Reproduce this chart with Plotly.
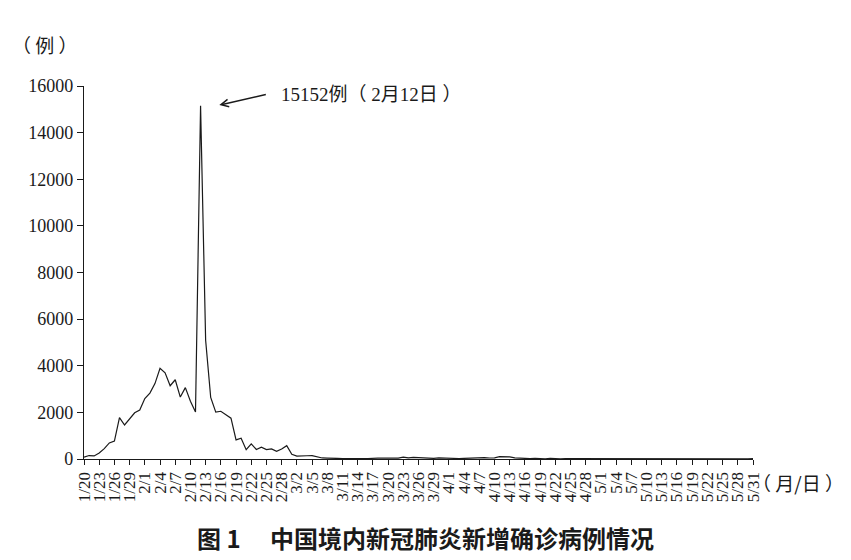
import pandas as pd
import plotly.graph_objects as go

start_date = "2020-01-20"
end_date = "2020-05-31"

new_cases = [
    77, 149, 131, 259, 444, 688, 769, 1771, 1459, 1737, 1982, 2102,          # 1/20-1/31
    2590, 2829, 3235, 3887, 3694, 3143, 3399, 2656, 3062, 2478, 2015, 15152,  # 2/1-2/12
    5090, 2641, 2009, 2048, 1886, 1749, 820, 889, 397, 648, 409, 508, 406,    # 2/13-2/25
    433, 327, 427, 573,                                                      # 2/26-2/29
    202, 125, 119, 139, 143, 99, 44, 40, 19, 24, 15, 8, 11, 20, 16, 21, 13,   # 3/1-3/17
    34, 39, 41, 46, 39, 78, 47, 67, 55, 54, 45, 31, 48, 36,                  # 3/18-3/31
    35, 31, 19, 30, 39, 32, 62, 63, 42, 46, 99, 108, 89, 46, 26, 27, 16,     # 4/1-4/17
    27, 12, 11, 30, 10, 10, 12, 11, 3, 6, 22, 4, 12,                          # 4/18-4/30
    2, 1, 2, 3, 1, 2, 4, 1, 14, 17, 1, 7, 3, 4, 5, 8, 7, 6, 4, 5, 4, 2, 3,    # 5/1-5/23
    11, 7, 1, 0, 5, 2, 4, 16,                                                # 5/24-5/31
]

y_ticks = [0, 2000, 4000, 6000, 8000, 10000, 12000, 14000, 16000]

dates = pd.date_range(start_date, end_date, freq="D")
tick_dates = dates[::3]
tick_text = [f"{d.month}/{d.day}" for d in tick_dates]

peak_idx = max(range(len(new_cases)), key=lambda i: new_cases[i])
peak_date = dates[peak_idx]
peak_value = new_cases[peak_idx]
peak_label = f"{peak_value}例（ {peak_date.month}月{peak_date.day}日 ）"

serif = "Liberation Serif, Times New Roman, serif"
cjk = "Noto Sans CJK SC"

fig = go.Figure()
fig.add_trace(go.Scatter(
    x=dates, y=new_cases, mode="lines",
    line=dict(color="#1a1a1a", width=1.2),
    hoverinfo="x+y", showlegend=False,
))

fig.update_layout(
    width=851, height=560,
    margin=dict(l=76, r=106, t=78, b=109),
    paper_bgcolor="white", plot_bgcolor="white",
    font=dict(family=serif, color="#1a1a1a"),
)

fig.update_xaxes(
    range=[dates[0], dates[-1]],
    tickmode="array", tickvals=list(tick_dates), ticktext=tick_text,
    tickangle=-90, ticks="outside", ticklen=5, tickwidth=1, tickcolor="#1a1a1a",
    showline=True, linecolor="#1a1a1a", linewidth=1.3,
    showgrid=False, zeroline=False,
    tickfont=dict(family=serif, size=17, color="#1a1a1a"),
)
fig.update_yaxes(
    range=[0, 16000],
    tickmode="array", tickvals=y_ticks, ticktext=[str(v) for v in y_ticks],
    ticks="outside", ticklen=6, tickwidth=1, tickcolor="#1a1a1a",
    showline=True, linecolor="#1a1a1a", linewidth=1.3,
    showgrid=False, zeroline=False,
    tickfont=dict(family=serif, size=18, color="#1a1a1a"),
)

# arrow pointing to peak
fig.add_annotation(
    x=dates[peak_idx] + pd.Timedelta(days=3.7), y=15180,
    ax=48, ay=-11, axref="pixel", ayref="pixel",
    text="", showarrow=True, arrowhead=5, arrowsize=1, arrowwidth=1.5,
    arrowcolor="#1a1a1a",
)
fig.add_annotation(
    xref="paper", yref="paper", x=0.292, y=0.976,
    xanchor="left", yanchor="middle", showarrow=False,
    text=peak_label, font=dict(family=f"{serif}, {cjk}", size=19, color="#1a1a1a"),
)
# y unit
fig.add_annotation(
    xref="paper", yref="paper", x=-0.058, y=1.11,
    xanchor="center", yanchor="middle", showarrow=False,
    text="（ 例 ）", font=dict(family=cjk, size=19, color="#1a1a1a"),
)
# x unit
fig.add_annotation(
    xref="paper", yref="paper", x=1.068, y=-0.062,
    xanchor="center", yanchor="middle", showarrow=False,
    text="（ 月/日 ）", font=dict(family=cjk, size=19, color="#1a1a1a"),
)
# caption
fig.add_annotation(
    xref="paper", yref="paper", x=0.51, y=-0.21,
    xanchor="center", yanchor="middle", showarrow=False,
    text="<b>图 1　 中国境内新冠肺炎新增确诊病例情况</b>",
    font=dict(family=cjk, size=24, color="#1a1a1a"),
)

fig.write_html("out.html")
